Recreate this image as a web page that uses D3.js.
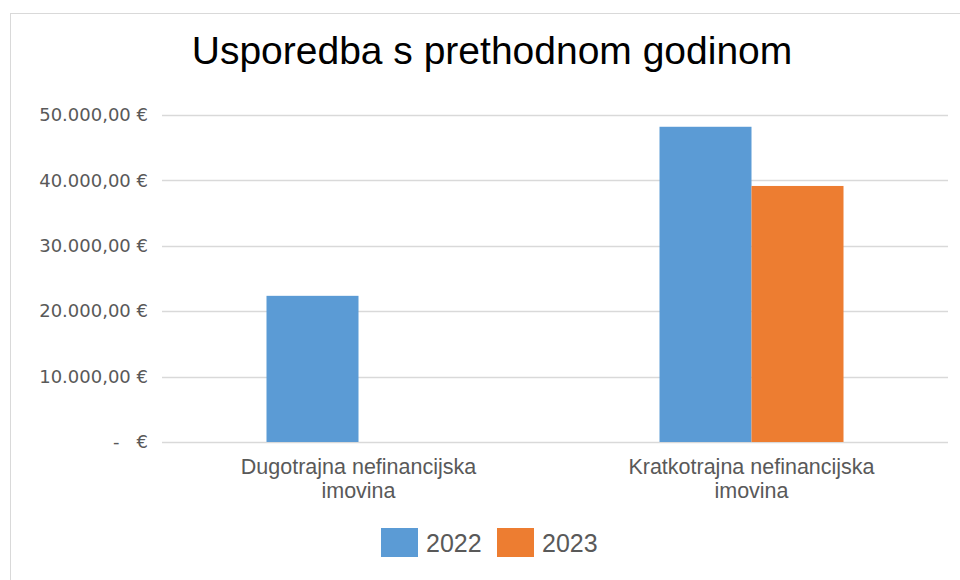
<!DOCTYPE html>
<html>
<head>
<meta charset="utf-8">
<script src="https://cdn.jsdelivr.net/npm/d3@7"></script>
<style>
  body { margin: 0; background: #fff; }
  svg { display: block; }
</style>
</head>
<body>
<div id="container"></div>
<script>
/* DATA */
const categories = ["Dugotrajna nefinancijska imovina", "Kratkotrajna nefinancijska imovina"]
const categoryLines = [["Dugotrajna nefinancijska", "imovina"], ["Kratkotrajna nefinancijska", "imovina"]]
const series = ["2022", "2023"]
const values2022 = [22350, 48200]
const values2023 = [0, 39150]
const yTicks = [0, 10000, 20000, 30000, 40000, 50000]
const colors = ["#5b9bd5", "#ed7d31"]

/* CONSTANTS */
const width = 960
const height = 580
const margin = { left: 162, right: 12, top: 115, bottom: 138 }

const rows = categories.map((c, i) => ({ category: c, lines: categoryLines[i], values: [values2022[i], values2023[i]] }))

const svg = d3.select("#container")
  .append("svg")
  .attr("width", width)
  .attr("height", height)

// chart frame
svg.append("rect")
  .attr("x", 10.5).attr("y", 13.5)
  .attr("width", width).attr("height", height)
  .attr("fill", "#fff")
  .attr("stroke", "#d9d9d9")

/* SCALES */
const xScale = d3.scaleBand()
  .domain(categories)
  .range([margin.left, width - margin.right])

const groupWidth = 184
const x1 = d3.scaleBand()
  .domain(series)
  .range([0, groupWidth])

const yScale = d3.scaleLinear()
  .domain([0, 50000])
  .range([height - margin.bottom, margin.top])

// gridlines
svg.append("g")
  .selectAll("line")
  .data(yTicks)
  .join("line")
  .attr("x1", margin.left)
  .attr("x2", width - margin.right)
  .attr("y1", d => Math.round(yScale(d)) + 0.5)
  .attr("y2", d => Math.round(yScale(d)) + 0.5)
  .attr("stroke", "#d9d9d9")
  .attr("stroke-width", 1.5)

// y axis labels
const fmt = d => d === 0 ? "-   €" : d3.format(",.2f")(d).replace(/,/g, "#").replace(".", ",").replace(/#/g, ".") + " €"
const yAxis = d3.axisLeft(yScale).tickValues(yTicks).tickFormat(fmt).tickSize(0).tickPadding(14)
svg.append("g")
  .attr("transform", `translate(${margin.left},0)`)
  .call(yAxis)
  .call(g => g.select(".domain").remove())
  .selectAll("text")
  .attr("fill", "#595959")
  .attr("font-family", "DejaVu Sans")
  .attr("font-size", 18)
  .style("white-space", "pre")

// bars
const groups = svg.selectAll("g.group")
  .data(rows)
  .join("g")
  .attr("class", "group")
  .attr("transform", d => `translate(${xScale(d.category) + (xScale.bandwidth() - groupWidth) / 2},0)`)

groups.selectAll("rect")
  .data(d => d.values.map((v, i) => ({ key: series[i], value: v, i })))
  .join("rect")
  .attr("x", d => x1(d.key))
  .attr("width", x1.bandwidth())
  .attr("y", d => yScale(d.value))
  .attr("height", d => yScale(0) - yScale(d.value))
  .attr("fill", d => colors[d.i])

// category labels
const xLabels = svg.append("g")
  .selectAll("text")
  .data(rows)
  .join("text")
  .attr("x", d => xScale(d.category) + xScale.bandwidth() / 2)
  .attr("y", 474)
  .attr("text-anchor", "middle")
  .attr("fill", "#595959")
  .attr("font-family", "'Liberation Sans Narrow', 'Liberation Sans', sans-serif")
  .attr("font-size", 21.5)

xLabels.selectAll("tspan")
  .data(d => d.lines)
  .join("tspan")
  .attr("x", function () { return this.parentNode.getAttribute("x") })
  .attr("dy", (d, i) => i === 0 ? 0 : 24)
  .text(d => d)

// title
svg.append("text")
  .attr("x", 492)
  .attr("y", 64)
  .attr("text-anchor", "middle")
  .attr("font-family", "'Liberation Sans', Arial, sans-serif")
  .attr("font-size", 39)
  .attr("fill", "#000")
  .text("Usporedba s prethodnom godinom")

// legend
const legend = svg.append("g")
  .selectAll("g")
  .data(series)
  .join("g")
  .attr("transform", (d, i) => `translate(${381 + i * 116},528)`)

legend.append("rect")
  .attr("width", 37)
  .attr("height", 29)
  .attr("fill", (d, i) => colors[i])

legend.append("text")
  .attr("x", 45)
  .attr("y", 24)
  .attr("fill", "#595959")
  .attr("font-family", "'Liberation Sans Narrow', 'Liberation Sans', sans-serif")
  .attr("font-size", 25)
  .text(d => d)
</script>
</body>
</html>
